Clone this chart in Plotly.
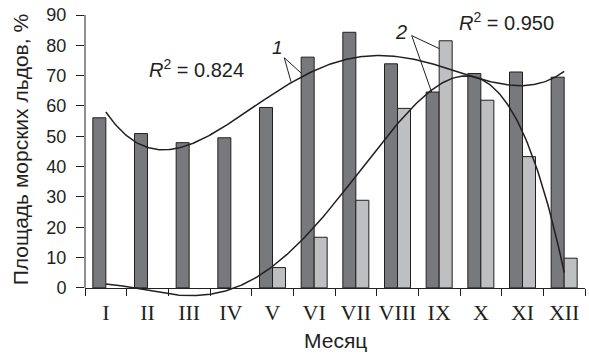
import numpy as np
import plotly.graph_objects as go

# Months and their Roman-numeral labels
months = list(range(1, 13))
month_labels = ["I", "II", "III", "IV", "V", "VI", "VII", "VIII", "IX", "X", "XI", "XII"]

# Sea-ice area, % (series 1 - dark bars, series 2 - light bars)
ice_1 = [56.1, 50.9, 47.9, 49.5, 59.5, 76.1, 84.3, 73.9, 64.6, 70.7, 71.2, 69.5]
ice_2 = [0, 0, 0, 0, 6.7, 16.7, 28.9, 59.2, 81.5, 61.9, 43.3, 9.8]

r2_1 = "0.824"
r2_2 = "0.950"

INK = "#231f20"
DARK = "#78797c"
LIGHT = "#bdbfc1"
SANS = "Liberation Sans, Arial, sans-serif"
SERIF = "Liberation Serif, Times New Roman, serif"

fig = go.Figure()

fig.add_trace(go.Bar(x=months, y=ice_1, marker=dict(color=DARK, line=dict(color=INK, width=1))))
# zero months carry no visible bar
fig.add_trace(go.Bar(x=months, y=[v if v > 0 else None for v in ice_2],
                     marker=dict(color=LIGHT, line=dict(color=INK, width=1))))

# 4th-order polynomial trend lines
xs = np.linspace(1, 12, 300)
for series in (ice_1, ice_2):
    coef = np.polyfit(months, series, 4)
    fig.add_trace(go.Scatter(x=xs, y=np.polyval(coef, xs), mode="lines",
                             line=dict(color=INK, width=1.5), hoverinfo="skip"))

shapes = [
    # y axis line
    dict(type="line", xref="paper", yref="y", x0=0, x1=0, y0=0, y1=90,
         line=dict(color=INK, width=1)),
    # leader lines for label 1
    dict(type="line", xref="x", yref="y", x0=5.283, y0=75.9, x1=5.444, y1=67.97,
         line=dict(color=INK, width=1), layer="below"),
    dict(type="line", xref="x", yref="y", x0=5.283, y0=75.9, x1=5.70, y1=70.7,
         line=dict(color=INK, width=1), layer="below"),
    # leader lines for label 2
    dict(type="line", xref="x", yref="y", x0=8.341, y0=83.2, x1=9.02, y1=78.8,
         line=dict(color=INK, width=1), layer="below"),
    dict(type="line", xref="x", yref="y", x0=8.341, y0=83.2, x1=8.859, y1=63.0,
         line=dict(color=INK, width=1), layer="below"),
]

annotations = [
    dict(x=5.108, y=79.4, text="<i>1</i>", showarrow=False,
         font=dict(family=SANS, size=19, color=INK)),
    dict(x=8.072, y=84.5, text="<i>2</i>", showarrow=False,
         font=dict(family=SANS, size=20, color=INK)),
    dict(x=3.164, y=72.5, text="<i>R</i><sup>2</sup> = " + r2_1, showarrow=False,
         font=dict(family=SANS, size=20, color=INK)),
    dict(x=10.604, y=88.0, text="<i>R</i><sup>2</sup> = " + r2_2, showarrow=False,
         font=dict(family=SANS, size=20, color=INK)),
    # axis titles
    dict(xref="paper", yref="paper", x=0.5, y=-0.155, text="Месяц", showarrow=False,
         yanchor="middle", font=dict(family=SANS, size=21, color=INK)),
    dict(xref="paper", yref="paper", x=-0.13, y=0.52, text="Площадь морских льдов, %",
         textangle=-90, showarrow=False, xanchor="center", yanchor="middle",
         font=dict(family=SANS, size=21, color=INK)),
]

fig.update_layout(
    width=589, height=355,
    margin=dict(l=85, r=4, t=15, b=58),
    paper_bgcolor="white", plot_bgcolor="white",
    showlegend=False,
    barmode="group", bargap=0.376, bargroupgap=0,
    shapes=shapes, annotations=annotations,
    xaxis=dict(
        range=[0.5, 12.5], tickvals=months, ticktext=month_labels,
        ticks="", showgrid=False, zeroline=False,
        showline=True, linecolor=INK, linewidth=1,
        anchor="free", position=3 / 93,
        tickfont=dict(family=SERIF, size=22, color=INK),
        ticklabelstandoff=5,
        minor=dict(tick0=0.5, dtick=1, ticks="outside", ticklen=7, tickcolor=INK, tickwidth=1),
    ),
    yaxis=dict(
        range=[-3, 90], tickvals=list(range(0, 91, 10)),
        ticks="outside", ticklen=8, tickcolor=INK, tickwidth=1,
        showline=False, showgrid=False, zeroline=False,
        tickfont=dict(family=SANS, size=18, color=INK),
        ticklabelstandoff=6,
    ),
)

fig.write_html("out.html")
